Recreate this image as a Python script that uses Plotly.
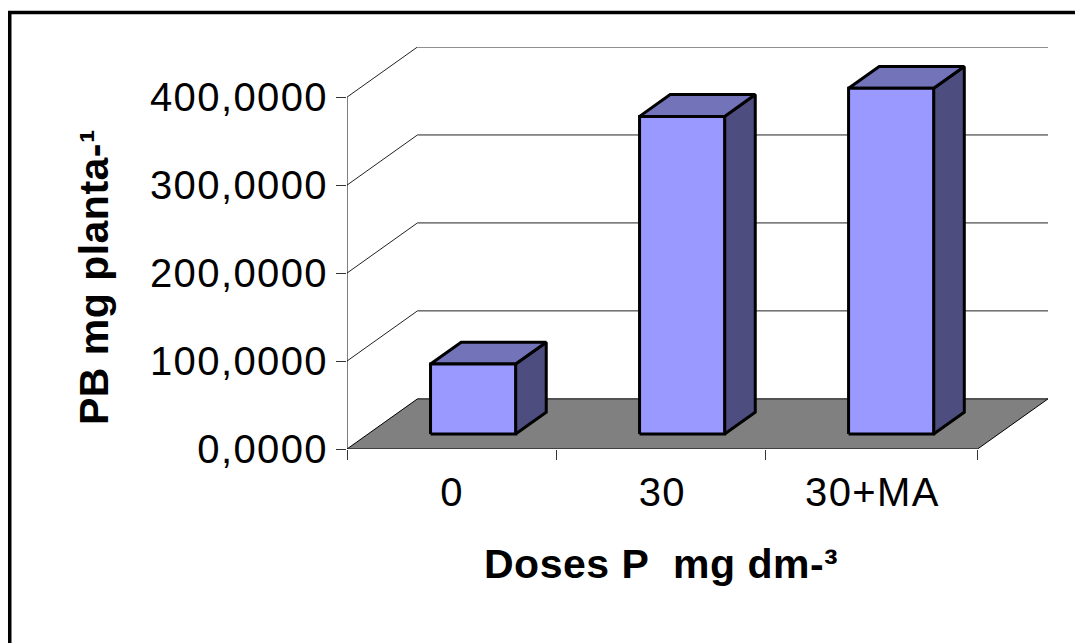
import plotly.graph_objects as go

categories = ["0", "30", "30+MA"]
values = [79.5, 361.0, 393.0]
y_ticks = [0, 100, 200, 300, 400]
y_tick_labels = ["0,0000", "100,0000", "200,0000", "300,0000", "400,0000"]
y_title = "PB mg planta-¹"
x_title = "Doses P\u00a0\u00a0mg dm-³"

W, H = 1075, 643
L, R, T, B = 346.5, 1048.0, 46.5, 449.5  # plot box in page pixels
END = 3.0167    # right end of the floor in category units
DX = 0.337      # depth in category units
DY = 57.0       # depth in value units
GAP = 0.402     # left offset of bars from band start (front plane offset excluded)
GAP = 0.2985
BW = 0.407      # bar width
F0, F1 = 0.30, 0.735  # bar front/back as fractions of depth
FRONT, TOP, SIDE = "#9999FF", "#7373BA", "#4D4D80"

def px(x, v, d=0.0):
    return x + d * DX, v + d * DY

def poly(points, fill=None, line="black", width=1.0, close=True):
    pts = [px(*p) for p in points]
    if close:
        pts.append(pts[0])
    return go.Scatter(
        x=[p[0] for p in pts], y=[p[1] for p in pts], mode="lines",
        line=dict(color=line, width=width),
        fill="toself" if fill else None, fillcolor=fill,
        cliponaxis=False, hoverinfo="skip", showlegend=False,
    )

n = len(categories)
fig = go.Figure()

# side-wall and back-wall gridlines
for v in y_ticks[1:]:
    fig.add_trace(poly([(0, v, 0), (0, v, 1), (END, v, 1)], close=False, line="#222222"))
# vertical axis
fig.add_trace(poly([(0, y_ticks[0], 0), (0, y_ticks[-1], 0)], close=False))
# floor
fig.add_trace(poly([(0, 0, 0), (END, 0, 0), (END, 0, 1), (0, 0, 1)], fill="#808080"))

# bars
for i, v in enumerate(values):
    a, b = i + GAP, i + GAP + BW
    fig.add_trace(poly([(b, 0, F0), (b, 0, F1), (b, v, F1), (b, v, F0)], fill=SIDE, width=3))
    fig.add_trace(poly([(a, v, F0), (b, v, F0), (b, v, F1), (a, v, F1)], fill=TOP, width=3))
    fig.add_trace(poly([(a, 0, F0), (b, 0, F0), (b, v, F0), (a, v, F0)], fill=FRONT, width=3))

tickfont = dict(family="Liberation Sans, Arial, sans-serif", size=40, color="black")
titlefont = dict(family="Liberation Sans, Arial, sans-serif", size=41, color="black", weight="bold")

fig.update_layout(
    width=W, height=H, autosize=False,
    paper_bgcolor="white", plot_bgcolor="white", showlegend=False,
    margin=dict(l=L, r=W - R, t=T, b=H - B, pad=0, autoexpand=False),
    xaxis=dict(
        range=[0, END + DX], showgrid=False, zeroline=False, showline=False,
        tickmode="array", tickvals=[(i + 0.5) * END / n for i in range(n)], ticktext=categories,
        ticks="outside", ticklen=8, tickcolor="rgba(0,0,0,0)", tickfont=tickfont,
        minor=dict(tickmode="array", tickvals=[0, 1, 2, END], ticks="outside",
                   ticklen=10, tickcolor="#333333", tickwidth=1, showgrid=False),
    ),
    yaxis=dict(
        range=[0, y_ticks[-1] + DY], showgrid=False, zeroline=False, showline=False,
        tickmode="array", tickvals=y_ticks, ticktext=y_tick_labels,
        ticks="outside", ticklen=10, tickcolor="#333333", tickwidth=1, tickfont=tickfont,
        ticklabelstandoff=0,
    ),
    shapes=[dict(
        type="path", xref="paper", yref="paper",
        path=f"M {(9 - L) / (R - L)} {(B - 660) / (B - T)} L {(9 - L) / (R - L)} {(B - 12) / (B - T)} "
             f"L {(1085 - L) / (R - L)} {(B - 12) / (B - T)}",
        line=dict(color="black", width=3.5), layer="above",
    )],
    annotations=[
        dict(text=x_title, xref="paper", yref="paper", showarrow=False,
             x=(660.5 - L) / (R - L), y=(B - 565) / (B - T), xanchor="center", yanchor="middle", font=titlefont),
        dict(text=y_title, xref="paper", yref="paper", showarrow=False, textangle=-90,
             x=(93 - L) / (R - L), y=(B - 277) / (B - T), xanchor="center", yanchor="middle", font=titlefont),
    ],
)

style = (".xtick text,.ytick text{letter-spacing:1.4px}"
         ".annotation-text{letter-spacing:0.5px}")
fig.write_html("out.html", config={"displayModeBar": False},
               post_script="document.body.style.margin='0';"
                           "var s=document.createElement('style');"
                           f"s.textContent='{style}';document.head.appendChild(s);")
